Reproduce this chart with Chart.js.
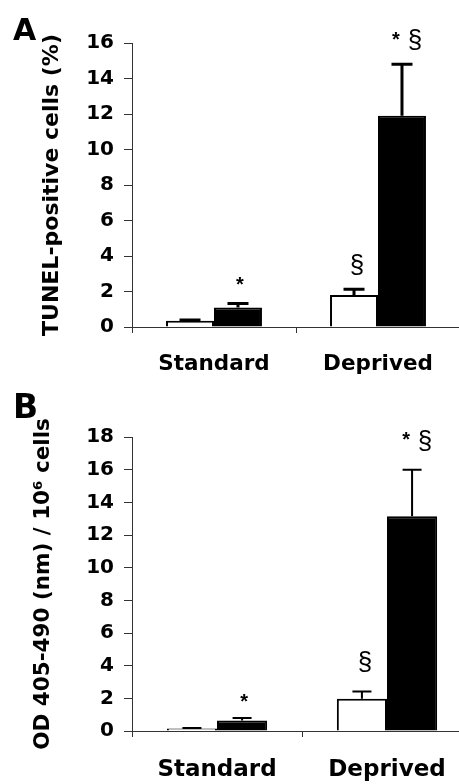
<!DOCTYPE html>
<html><head><meta charset="utf-8">
<script src="https://cdn.jsdelivr.net/npm/chart.js@4"></script>
<style>
html,body{margin:0;padding:0;overflow:hidden;background:#fff;width:459px;height:784px}
canvas{position:absolute;left:0}
#cA{top:0}
#cB{top:392px}
</style></head><body>
<canvas id="cA" width="470" height="392"></canvas>
<canvas id="cB" width="480" height="392"></canvas>
<script>
const categories = ['Standard', 'Deprived'];

// Panel A: TUNEL-positive cells (%)
const yTicksA = [0, 2, 4, 6, 8, 10, 12, 14, 16];
const whiteA = [0.35, 1.8];
const blackA = [1.1, 11.9];
const whiteErrA = [0.05, 0.32];
const blackErrA = [0.22, 2.9];
const whiteMarksA = ['', '§'];
const blackMarksA = ['*', '* §'];

// Panel B: OD 405-490 (nm) / 10^6 cells
const yTicksB = [0, 2, 4, 6, 8, 10, 12, 14, 16, 18];
const whiteB = [0.15, 1.97];
const blackB = [0.65, 13.15];
const whiteErrB = [0.03, 0.45];
const blackErrB = [0.15, 2.85];
const whiteMarksB = ['', '§'];
const blackMarksB = ['*', '* §'];

const F = "'DejaVu Sans', sans-serif";
const FS = "'Liberation Sans', Arial, sans-serif";

function drawStar(ctx, x, cy) {
  ctx.font = "bold 20px " + FS;
  ctx.textAlign = 'center'; ctx.textBaseline = 'alphabetic';
  ctx.fillText('*', x, cy + 11.6);
}
function drawSect(ctx, x, cy) {
  ctx.font = "26px " + FS;
  ctx.textAlign = 'center'; ctx.textBaseline = 'alphabetic';
  ctx.fillText('§', x, cy + 7);
}

const errPlugin = {
  id: 'errs',
  afterDatasetsDraw(chart, args, o) {
    const ctx = chart.ctx, y = chart.scales.y;
    chart.data.datasets.forEach((ds, i) => {
      const meta = chart.getDatasetMeta(i);
      meta.data.forEach((bar, j) => {
        const v = ds.data[j], e = ds.err[j];
        const yt = y.getPixelForValue(v + e);
        ctx.save();
        ctx.strokeStyle = '#000'; ctx.fillStyle = '#000';
        ctx.lineWidth = o.lw;
        ctx.beginPath();
        ctx.moveTo(bar.x, bar.y); ctx.lineTo(bar.x, yt);
        ctx.moveTo(bar.x - o.cap / 2, yt); ctx.lineTo(bar.x + o.cap / 2, yt);
        ctx.stroke();
        const m = ds.marks[j];
        if (m === '*') drawStar(ctx, bar.x + 2, yt - o.sOff);
        else if (m === '§') drawSect(ctx, bar.x + 3, yt - o.pOff);
        else if (m === '* §') {
          drawStar(ctx, bar.x - 6, yt - o.pOff - 7);
          drawSect(ctx, bar.x + 13, yt - o.pOff);
        }
        ctx.restore();
      });
    });
  }
};

const letterPlugin = {
  id: 'letter',
  afterDraw(chart, args, o) {
    const ctx = chart.ctx;
    ctx.save();
    ctx.fillStyle = '#000';
    ctx.font = 'bold ' + o.size + 'px ' + F;
    ctx.textAlign = 'left'; ctx.textBaseline = 'alphabetic';
    ctx.fillText(o.text, o.x, o.y);
    ctx.restore();
  }
};

function makeChart(id, c) {
  return new Chart(document.getElementById(id), {
    type: 'bar',
    data: {
      labels: categories,
      datasets: [
        { data: c.white, err: c.whiteErr, marks: c.whiteMarks, backgroundColor: '#fff', borderColor: '#000', borderWidth: 2 },
        { data: c.black, err: c.blackErr, marks: c.blackMarks, backgroundColor: '#000', borderColor: '#000', borderWidth: 2 }
      ]
    },
    options: {
      responsive: false,
      animation: false,
      events: [],
      categoryPercentage: c.catPct,
      barPercentage: 1,
      layout: { padding: { left: 0, top: c.padTop, right: c.padRight, bottom: 0 } },
      plugins: {
        legend: { display: false },
        tooltip: { enabled: false },
        errs: { lw: c.lw, cap: c.cap, sOff: c.sOff, pOff: c.pOff },
        letter: { text: c.letter, x: 13, y: c.letterY, size: c.letterSize }
      },
      scales: {
        x: {
          grid: { offset: true, drawOnChartArea: false, tickLength: 6, color: '#333' },
          border: { color: '#333', width: 1 },
          ticks: { font: { family: F, weight: 'bold', size: c.xFont }, color: '#000', padding: c.xPad },
          afterFit(s) { s.height = c.xH; }
        },
        y: {
          min: 0, max: c.ticks[c.ticks.length - 1],
          afterBuildTicks(s) { s.ticks = c.ticks.map(v => ({ value: v })); },
          grid: { drawOnChartArea: false, tickLength: 8, color: '#333' },
          border: { color: '#333', width: 1 },
          ticks: { font: { family: F, weight: 'bold', size: 20 }, color: '#000', padding: 10 },
          title: { display: true, text: c.title, color: '#000',
                   font: { family: F, weight: 'bold', size: c.titleSize },
                   padding: { top: c.titlePad, bottom: 0 } },
          afterFit(s) { s.width = 132; }
        }
      }
    },
    plugins: [errPlugin, letterPlugin]
  });
}

makeChart('cA', {
  white: whiteA, black: blackA, whiteErr: whiteErrA, blackErr: blackErrA,
  whiteMarks: whiteMarksA, blackMarks: blackMarksA, ticks: yTicksA,
  title: 'TUNEL-positive cells (%)', titleSize: 22, titlePad: 39,
  catPct: 0.585, padTop: 43, padRight: 10, xH: 65, xFont: 21.5, xPad: 19,
  lw: 3, cap: 21, sOff: 24, pOff: 23,
  letter: 'A', letterY: 40, letterSize: 30
});

makeChart('cB', {
  white: whiteB, black: blackB, whiteErr: whiteErrB, blackErr: blackErrB,
  whiteMarks: whiteMarksB, blackMarks: blackMarksB, ticks: yTicksB,
  title: 'OD 405-490 (nm) / 10\u2076 cells', titleSize: 21.5, titlePad: 31,
  catPct: 0.59, padTop: 45, padRight: 8, xH: 53, xFont: 23, xPad: 19,
  lw: 2, cap: 19, sOff: 22, pOff: 28,
  letter: 'B', letterY: 26, letterSize: 33
});
</script>
</body></html>
